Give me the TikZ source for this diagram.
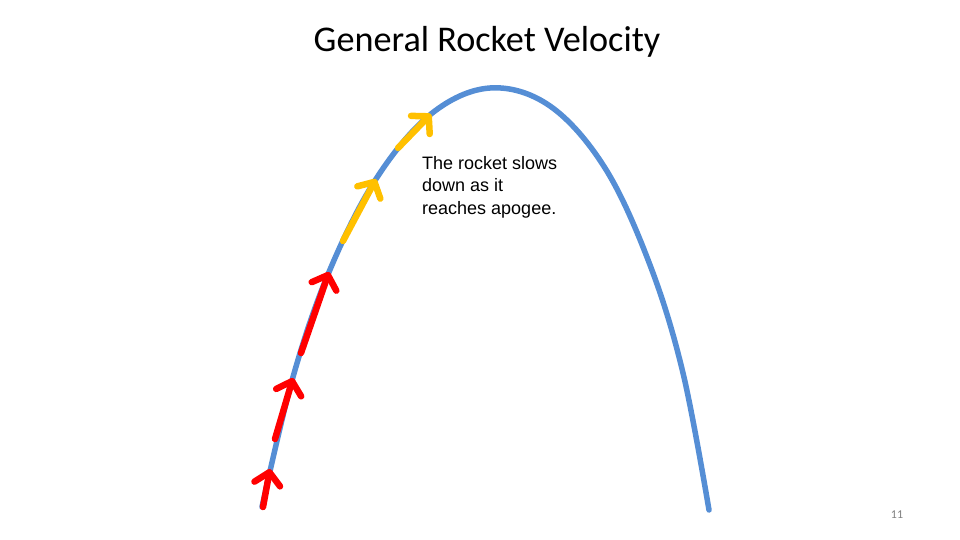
\documentclass[tikz,border=0pt]{standalone}
\usepackage{fontspec}
\setmainfont{Carlito}
\newfontfamily\arialfont{Liberation Sans}
\usetikzlibrary{arrows.meta}

\definecolor{pathblue}{RGB}{85,142,213}
\definecolor{fastred}{RGB}{255,0,0}
\definecolor{slowyellow}{RGB}{255,192,0}

\begin{document}
\begin{tikzpicture}[x=1pt, y=-1pt,
    trajectory/.style={draw=pathblue, line width=5.5pt, line cap=round},
    velocity/.style={line width=6.5pt, line cap=round,
        -{Straight Barb[length=12pt, width=26pt, round]}},
    caption/.style={font=\arialfont\fontsize{18}{22.5}\selectfont, align=left, inner sep=0pt}]
    \useasboundingbox (0,0) rectangle (960,540);

    % title
    \node (title) at (487,42) {\fontsize{36.2}{40}\selectfont General Rocket Velocity};

    % flight path
    \draw [trajectory] plot [smooth, tension=0.6] coordinates {
        (262,507) (293,377) (329,272) (376,179) (431,114) (490,88)
        (550,106) (605,168) (650,265) (683,373) (709,510)};

    % velocity arrows
    \coordinate (tailA) at (263,507);
    \coordinate (tipA) at (270,469);
    \coordinate (tailB) at (275,439);
    \coordinate (tipB) at (293,378);
    \coordinate (tailC) at (301,353);
    \coordinate (tipC) at (329,272);
    \coordinate (tailD) at (343,241);
    \coordinate (tipD) at (376,179);
    \coordinate (tailE) at (398,148);
    \coordinate (tipE) at (431,114);

    \draw [velocity, fastred] (tailA) -- (tipA);
    \draw [velocity, fastred] (tailB) -- (tipB);
    \draw [velocity, fastred] (tailC) -- (tipC);
    \draw [velocity, slowyellow] (tailD) -- (tipD);
    \draw [velocity, slowyellow] (tailE) -- (tipE);

    % note
    \node [caption, anchor=north west] (note) at (422,156)
        {The rocket slows\\down as it\\reaches apogee.};

    % slide number
    \node [text=gray, font=\fontsize{12}{14}\selectfont] (pagenum) at (897,515) {11};
\end{tikzpicture}
\end{document}
